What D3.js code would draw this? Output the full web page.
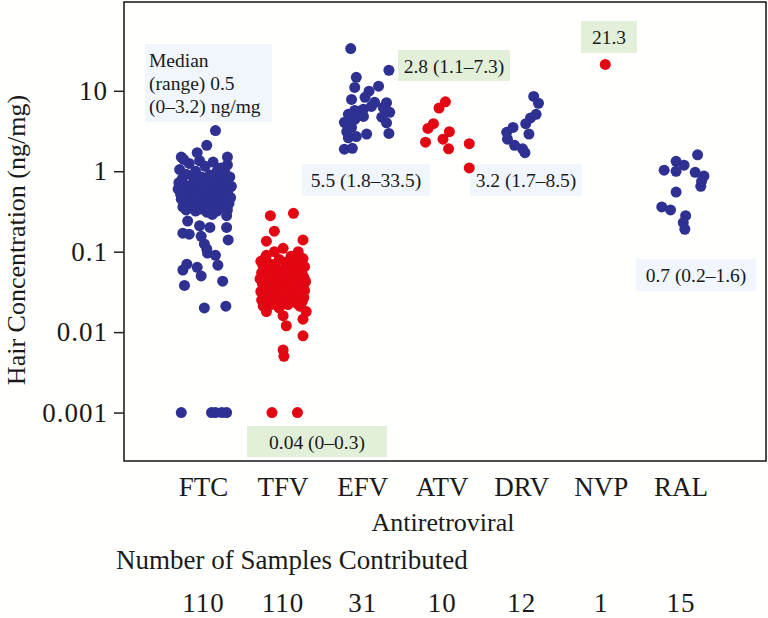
<!DOCTYPE html>
<html>
<head>
<meta charset="utf-8">
<script src="https://cdn.jsdelivr.net/npm/d3@7"></script>
<style>
  html, body { margin: 0; padding: 0; background: #fffffd; }
  svg { display: block; }
</style>
</head>
<body>
<svg id="chart" width="768" height="618"></svg>
<script>
// ---------------- DATA ----------------
const categories = ["FTC", "TFV", "EFV", "ATV", "DRV", "NVP", "RAL"];
const sampleCounts = ["110", "110", "31", "10", "12", "1", "15"];
const groupColor = ["blue", "red", "blue", "red", "blue", "red", "blue"];
const yTickValues = [0.001, 0.01, 0.1, 1, 10];
const yTickLabels = ["0.001", "0.01", "0.1", "1", "10"];

// values in ng/mg (0 = below limit, shown at 0.001), jitter in category units
const ftcValues = [3.2, 2.1, 1.7, 1.5, 1.5,
  1.4, 1.3, 1.35, 1.2, 1.25, 1.1, 1.15, 1.05, 1.0, 1.0,
  0.95, 0.92, 0.9, 0.88, 0.85, 0.84, 0.82, 0.8, 0.78, 0.76,
  0.75, 0.74, 0.72, 0.7, 0.7, 0.68, 0.66, 0.65, 0.64, 0.62,
  0.61, 0.6, 0.6, 0.58, 0.57, 0.56, 0.55, 0.55, 0.54, 0.53,
  0.52, 0.52, 0.51, 0.5, 0.5, 0.49, 0.48, 0.48, 0.47, 0.46,
  0.45, 0.45, 0.44, 0.43, 0.42, 0.42, 0.41, 0.4, 0.4, 0.39,
  0.38, 0.38, 0.37, 0.36, 0.36, 0.35, 0.35, 0.34, 0.34, 0.33,
  0.33, 0.32, 0.32, 0.31, 0.6, 0.9, 1.1,
  0.29, 0.28, 0.24, 0.21, 0.2, 0.2, 0.17, 0.165, 0.155, 0.125, 0.14, 0.108,
  0.096, 0.09, 0.07, 0.059, 0.064, 0.068, 0.05, 0.038, 0.043, 0.02, 0.021,
  0, 0, 0, 0, 0];
const ftcJitter = [0.15, 0.04, -0.08, -0.28, 0.30,
  -0.25, 0.12, -0.05, 0.30, -0.18, 0.22, 0.02, -0.30, 0.17, -0.10,
  0.27, -0.22, 0.08, -0.14, 0.33, -0.02, 0.19, -0.27, 0.05, 0.24,
  -0.12, 0.14, -0.31, 0.29, -0.07, 0.10, -0.20, 0.35, 0.00, -0.16,
  0.21, -0.26, 0.07, 0.31, -0.09, 0.16, -0.23, 0.26, -0.04, 0.11,
  -0.29, 0.20, 0.03, -0.17, 0.28, -0.11, 0.13, -0.24, 0.34, -0.01,
  0.18, -0.28, 0.09, -0.13, 0.25, -0.06, 0.15, -0.21, 0.32, 0.01,
  -0.19, 0.23, -0.08, 0.06, -0.26, 0.27, -0.15, 0.12, -0.03, 0.30,
  -0.22, 0.17, -0.10, 0.04, -0.32, 0.19, 0.26,
  0.11, 0.29, -0.20, -0.05, 0.08, 0.29, -0.26, -0.18, -0.03, 0.01, 0.31, 0.04,
  0.05, 0.15, -0.21, -0.26, -0.08, 0.18, -0.03, -0.24, 0.24, 0.01, 0.28,
  -0.28, 0.10, 0.15, 0.23, 0.29];

const tfvValues = [0.28, 0.30,
  0.18, 0.135, 0.14, 0.11, 0.10, 0.09, 0.10,
  0.088, 0.085, 0.082, 0.08, 0.078, 0.076, 0.074, 0.072, 0.07, 0.068,
  0.066, 0.065, 0.063, 0.062, 0.06, 0.059, 0.058, 0.056, 0.055, 0.054,
  0.053, 0.052, 0.051, 0.05, 0.05, 0.049, 0.048, 0.047, 0.046, 0.046,
  0.045, 0.044, 0.044, 0.043, 0.042, 0.042, 0.041, 0.041, 0.04, 0.04,
  0.04, 0.039, 0.039, 0.038, 0.038, 0.037, 0.037, 0.036, 0.036, 0.035,
  0.035, 0.034, 0.034, 0.033, 0.033, 0.032, 0.032, 0.031, 0.031, 0.03,
  0.03, 0.029, 0.029, 0.028, 0.028, 0.027, 0.027, 0.026, 0.026, 0.025,
  0.025, 0.024, 0.024, 0.023, 0.023, 0.022, 0.022, 0.021, 0.021, 0.02,
  0.047, 0.052, 0.043, 0.038, 0.034, 0.031, 0.045, 0.04, 0.036, 0.029,
  0.05,
  0.018, 0.016, 0.018, 0.0145, 0.012, 0.009, 0.006, 0.005,
  0, 0];
const tfvJitter = [-0.16, 0.13,
  -0.11, -0.21, 0.25, 0.00, -0.11, -0.21, 0.19,
  0.10, -0.22, 0.25, -0.05, 0.18, -0.28, 0.03, 0.22, -0.15, 0.12,
  -0.25, 0.27, -0.09, 0.06, -0.19, 0.20, -0.02, 0.15, -0.27, 0.08,
  0.24, -0.12, 0.01, -0.23, 0.17, -0.07, 0.26, -0.17, 0.11, -0.29,
  0.04, 0.21, -0.13, 0.14, -0.04, 0.28, -0.21, 0.07, -0.10, 0.19,
  -0.26, 0.02, 0.23, -0.16, 0.09, -0.06, 0.25, -0.20, 0.13, -0.01,
  0.16, -0.24, 0.05, 0.27, -0.11, 0.18, -0.28, 0.00, 0.22, -0.14,
  0.10, -0.08, 0.20, -0.22, 0.03, 0.26, -0.18, 0.12, -0.03, 0.15,
  -0.27, 0.08, 0.24, -0.09, 0.17, -0.15, 0.06, -0.25, 0.21, -0.05,
  0.14, -0.19, 0.28, -0.12, 0.01, 0.19, -0.23, 0.09, -0.07, 0.23,
  -0.16,
  -0.21, 0.00, 0.29, 0.25, 0.04, 0.25, 0.00, 0.01,
  -0.14, 0.18];

const efvValues = [33.5, 18, 14.7, 11, 11.4, 9.9, 8.3, 7.8, 7.2, 7.1,
  5.9, 5.7, 5.4, 5.1, 4.7, 4.8, 4.06, 4.4, 4.0, 3.5,
  3.1, 2.9, 2.95, 2.6, 2.7, 1.88, 1.93, 6.4, 6.2, 5.55, 3.7];
const efvJitter = [-0.15, 0.33, -0.08, -0.10, 0.20, 0.08, 0.03, -0.14, 0.15, 0.30,
  0.01, -0.10, 0.34, -0.18, 0.24, 0.01, -0.23, -0.10, 0.30, -0.14,
  -0.20, 0.05, 0.33, -0.18, -0.08, -0.23, -0.13, 0.11, 0.26, -0.04, -0.19];

const atvValues = [7.3, 6.1, 3.9, 3.4, 3.1, 2.3, 2.5, 1.9, 2.2, 1.1];
const atvJitter = [0.04, -0.04, -0.11, -0.18, 0.09, -0.21, 0.01, 0.08, 0.34, 0.34];

const drvValues = [8.5, 7.0, 5.1, 4.6, 3.9, 3.5, 3.05, 2.9, 2.5, 2.1, 1.9, 1.7];
const drvJitter = [0.15, 0.21, 0.18, 0.11, 0.05, -0.11, -0.19, 0.09, -0.18, -0.09, 0.01, 0.04];

const nvpValues = [21.3];
const nvpJitter = [0.05];

const ralValues = [1.6, 1.33, 1.19, 1.03, 1.0, 0.97, 0.87, 0.75, 0.65, 0.55, 0.36, 0.33, 0.28, 0.23, 0.19];
const ralJitter = [0.21, -0.06, 0.04, -0.21, -0.06, 0.18, 0.29, 0.26, 0.25, -0.06, -0.24, -0.13, 0.06, 0.03, 0.05];

const medianLabels = ["Median (range) 0.5 (0–3.2) ng/mg", "0.04 (0–0.3)", "5.5 (1.8–33.5)",
  "2.8 (1.1–7.3)", "3.2 (1.7–8.5)", "21.3", "0.7 (0.2–1.6)"];

// ---------------- CHART ----------------
const FONT = "'Liberation Serif', 'Times New Roman', 'DejaVu Serif', serif";
const svg = d3.select("#chart");
const W = 768, H = 618;
const plot = { left: 124, top: 2, right: 766, bottom: 461 };
const colors = { blue: "#2e3192", red: "#e30613" };
const boxFill = { blue: "#f0f6fc", red: "#e2efd9" };
const textColor = "#1a1a1a";

svg.append("rect").attr("width", W).attr("height", H).attr("fill", "#fffffd");

const x = d3.scaleLinear().domain([0, 8.07]).range([plot.left, plot.right]);
const y = d3.scaleLog().domain([0.00025, 127]).range([plot.bottom, plot.top]);

const seriesValues = [ftcValues, tfvValues, efvValues, atvValues, drvValues, nvpValues, ralValues];
const seriesJitter = [ftcJitter, tfvJitter, efvJitter, atvJitter, drvJitter, nvpJitter, ralJitter];

const points = [];
seriesValues.forEach((vals, i) => {
  vals.forEach((v, k) => {
    points.push({ cat: i, v: v, j: seriesJitter[i][k], color: groupColor[i] });
  });
});

function txt(g) {
  return g.append("text").style("font-family", FONT).attr("fill", textColor);
}

// label boxes (drawn before points)
const boxes = [
  { cat: 0, x0: 145, y0: 44, x1: 272, y1: 122, lines: ["Median", "(range) 0.5", "(0–3.2) ng/mg"] },
  { cat: 1, x0: 247, y0: 426, x1: 387, y1: 457, lines: [medianLabels[1]] },
  { cat: 2, x0: 302, y0: 164, x1: 430, y1: 196, lines: [medianLabels[2]] },
  { cat: 3, x0: 398, y0: 50, x1: 510, y1: 81, lines: [medianLabels[3]] },
  { cat: 4, x0: 470, y0: 164, x1: 582, y1: 196, lines: [medianLabels[4]] },
  { cat: 5, x0: 581, y0: 21, x1: 637, y1: 53, lines: [medianLabels[5]] },
  { cat: 6, x0: 636, y0: 259, x1: 756, y1: 291, lines: [medianLabels[6]] }
];
const gb = svg.append("g");
boxes.forEach(b => {
  gb.append("rect").attr("x", b.x0).attr("y", b.y0).attr("width", b.x1 - b.x0).attr("height", b.y1 - b.y0)
    .attr("fill", boxFill[groupColor[b.cat]]);
  if (b.lines.length === 1) {
    txt(gb).attr("x", (b.x0 + b.x1) / 2).attr("y", (b.y0 + b.y1) / 2 + 7)
      .attr("text-anchor", "middle").style("font-size", "19.5px").text(b.lines[0]);
  } else {
    b.lines.forEach((ln, li) => {
      txt(gb).attr("x", b.x0 + 4).attr("y", b.y0 + 23 + li * 23)
        .style("font-size", "19.5px").text(ln);
    });
  }
});

// points
svg.append("g").selectAll("circle").data(points).join("circle")
  .attr("cx", d => x(d.cat + 1 + d.j))
  .attr("cy", d => y(Math.max(d.v, 0.001)))
  .attr("r", 5.5)
  .attr("fill", d => colors[d.color]);

// frame
svg.append("rect").attr("x", plot.left).attr("y", plot.top)
  .attr("width", plot.right - plot.left).attr("height", plot.bottom - plot.top)
  .attr("fill", "none").attr("stroke", "#222").attr("stroke-width", 1.6);

// y axis
const yAxis = d3.axisLeft(y).tickValues(yTickValues)
  .tickFormat((d, i) => yTickLabels[i]).tickSize(10).tickPadding(6);
const gy = svg.append("g").attr("transform", `translate(${plot.left},0)`).call(yAxis);
gy.attr("font-family", null).attr("font-size", null);
gy.select(".domain").remove();
gy.selectAll(".tick line").attr("stroke", "#222").attr("stroke-width", 1.5);
gy.selectAll(".tick text").style("font-family", FONT).style("font-size", "27px")
  .style("letter-spacing", "1px").attr("fill", textColor);

txt(svg).attr("transform", `translate(25,240) rotate(-90)`)
  .attr("text-anchor", "middle").style("font-size", "26px").text("Hair Concentration (ng/mg)");

// x category labels
const gx = svg.append("g");
categories.forEach((c, i) => {
  txt(gx).attr("x", x(i + 1)).attr("y", 496).attr("text-anchor", "middle")
    .style("font-size", "27px").text(c);
});

txt(svg).attr("x", 443).attr("y", 531).attr("text-anchor", "middle")
  .style("font-size", "26px").text("Antiretroviral");

txt(svg).attr("x", 116).attr("y", 569)
  .style("font-size", "27px").text("Number of Samples Contributed");

const gc = svg.append("g");
sampleCounts.forEach((c, i) => {
  txt(gc).attr("x", x(i + 1)).attr("y", 612).attr("text-anchor", "middle")
    .style("font-size", "27px").style("letter-spacing", "1px").text(c);
});
</script>
</body>
</html>
